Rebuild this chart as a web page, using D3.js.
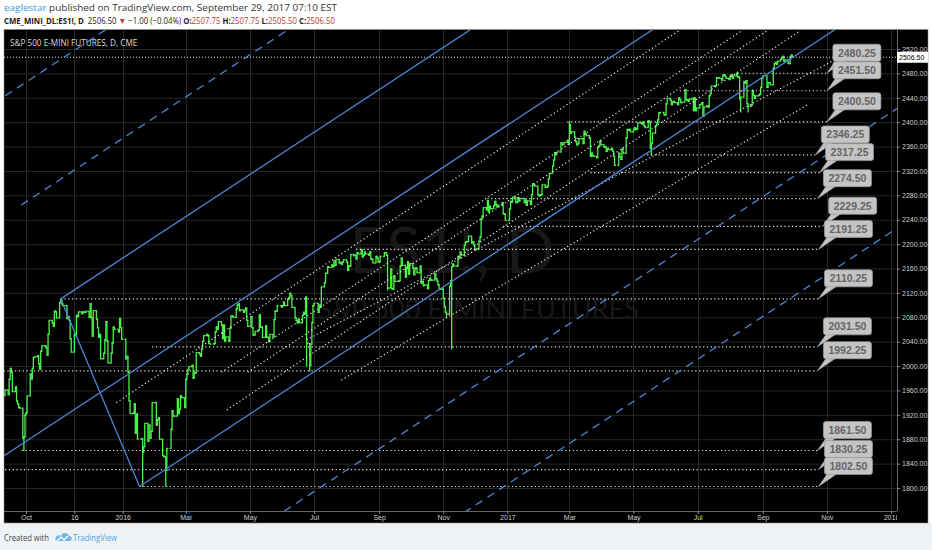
<!DOCTYPE html>
<html>
<head>
<meta charset="utf-8">
<script src="https://cdn.jsdelivr.net/npm/d3@7"></script>
<style>
body{margin:0;background:#fff}
svg{display:block}
</style>
</head>
<body>
<div id="chart"></div>
<script>
// daily closes, ES1!, year implied by the array name
const bars2015 = [
["09-10",1952],["09-11",1961],["09-14",1953],["09-15",1978],["09-16",1996],["09-17",1990],["09-18",1958],["09-21",1966],["09-22",1943],["09-23",1938],["09-24",1932],["09-25",1931],["09-28",1882],["09-29",1884],["09-30",1920],
["10-01",1923],["10-02",1951],["10-05",1987],["10-06",1979],["10-07",1996],["10-08",2014],["10-09",2015],["10-12",2017],["10-13",2004],["10-14",1995],["10-15",2024],["10-16",2033],["10-19",2033],["10-20",2030],["10-21",2018],["10-22",2052],["10-23",2075],["10-26",2071],["10-27",2065],["10-28",2090],["10-29",2089],["10-30",2079],
["11-02",2104],["11-03",2109],["11-04",2102],["11-05",2099],["11-06",2099],["11-09",2078],["11-10",2081],["11-11",2075],["11-12",2045],["11-13",2023],["11-16",2053],["11-17",2050],["11-18",2083],["11-19",2081],["11-20",2089],["11-23",2086],["11-24",2089],["11-25",2088],["11-27",2090],["11-30",2080],
["12-01",2102],["12-02",2079],["12-03",2049],["12-04",2091],["12-07",2077],["12-08",2063],["12-09",2047],["12-10",2052],["12-11",2012],["12-14",2021],["12-15",2043],["12-16",2073],["12-17",2041],["12-18",2005],["12-21",2021],["12-22",2038],["12-23",2064],["12-24",2060],["12-28",2056],["12-29",2078],["12-30",2063],["12-31",2044]
];
const bars2016 = [
["01-04",2012],["01-05",2016],["01-06",1990],["01-07",1943],["01-08",1922],["01-11",1923],["01-12",1938],["01-13",1890],["01-14",1921],["01-15",1880],["01-19",1881],["01-20",1859],["01-21",1868],["01-22",1906],["01-25",1877],["01-26",1903],["01-27",1882],["01-28",1893],["01-29",1940],
["02-01",1940],["02-02",1903],["02-03",1912],["02-04",1915],["02-05",1880],["02-08",1853],["02-09",1852],["02-10",1851],["02-11",1829],["02-12",1865],["02-16",1896],["02-17",1927],["02-18",1918],["02-19",1918],["02-22",1946],["02-23",1922],["02-24",1929],["02-25",1951],["02-26",1948],["02-29",1932],
["03-01",1978],["03-02",1987],["03-03",1994],["03-04",1999],["03-07",2001],["03-08",1980],["03-09",1989],["03-10",1989],["03-11",2022],["03-14",2020],["03-15",2016],["03-16",2028],["03-17",2041],["03-18",2050],["03-21",2052],["03-22",2050],["03-23",2037],["03-24",2036],["03-28",2037],["03-29",2056],["03-30",2064],["03-31",2060],
["04-01",2073],["04-04",2067],["04-05",2045],["04-06",2067],["04-07",2041],["04-08",2048],["04-11",2041],["04-12",2062],["04-13",2082],["04-14",2082],["04-15",2080],["04-18",2094],["04-19",2100],["04-20",2102],["04-21",2091],["04-22",2092],["04-25",2088],["04-26",2091],["04-27",2095],["04-28",2075],["04-29",2065],
["05-02",2081],["05-03",2063],["05-04",2051],["05-05",2051],["05-06",2057],["05-09",2059],["05-10",2084],["05-11",2064],["05-12",2064],["05-13",2047],["05-16",2066],["05-17",2047],["05-18",2047],["05-19",2040],["05-20",2052],["05-23",2048],["05-24",2076],["05-25",2090],["05-26",2090],["05-27",2099],["05-31",2097],
["06-01",2099],["06-02",2105],["06-03",2099],["06-06",2110],["06-07",2112],["06-08",2119],["06-09",2115],["06-10",2096],["06-13",2079],["06-14",2075],["06-15",2071],["06-16",2077],["06-17",2071],["06-20",2083],["06-21",2088],["06-22",2085],["06-23",2113],["06-24",2037],["06-27",2001],["06-28",2036],["06-29",2071],["06-30",2099],
["07-01",2103],["07-05",2088],["07-06",2100],["07-07",2097],["07-08",2130],["07-11",2137],["07-12",2152],["07-13",2152],["07-14",2163],["07-15",2162],["07-18",2166],["07-19",2163],["07-20",2173],["07-21",2165],["07-22",2175],["07-25",2169],["07-26",2170],["07-27",2167],["07-28",2170],["07-29",2174],
["08-01",2171],["08-02",2157],["08-03",2164],["08-04",2164],["08-05",2183],["08-08",2181],["08-09",2182],["08-10",2176],["08-11",2186],["08-12",2184],["08-15",2190],["08-16",2179],["08-17",2182],["08-18",2187],["08-19",2184],["08-22",2182],["08-23",2187],["08-24",2176],["08-25",2175],["08-26",2169],["08-29",2180],["08-30",2177],["08-31",2171],
["09-01",2171],["09-02",2180],["09-06",2186],["09-07",2186],["09-08",2182],["09-09",2128],["09-12",2159],["09-13",2127],["09-14",2126],["09-15",2147],["09-16",2139],["09-19",2139],["09-20",2140],["09-21",2164],["09-22",2177],["09-23",2165],["09-26",2146],["09-27",2160],["09-28",2171],["09-29",2151],["09-30",2168],
["10-03",2161],["10-04",2150],["10-05",2160],["10-06",2161],["10-07",2153],["10-10",2164],["10-11",2136],["10-12",2139],["10-13",2132],["10-14",2133],["10-17",2127],["10-18",2140],["10-19",2144],["10-20",2141],["10-21",2141],["10-24",2151],["10-25",2143],["10-26",2139],["10-27",2133],["10-28",2126],["10-31",2126],
["11-01",2111],["11-02",2097],["11-03",2088],["11-04",2085],["11-07",2131],["11-08",2140],["11-09",2163],["11-10",2167],["11-11",2164],["11-14",2164],["11-15",2180],["11-16",2177],["11-17",2187],["11-18",2182],["11-21",2198],["11-22",2203],["11-23",2204],["11-25",2213],["11-28",2202],["11-29",2204],["11-30",2199],
["12-01",2191],["12-02",2192],["12-05",2205],["12-06",2212],["12-07",2241],["12-08",2246],["12-09",2260],["12-12",2256],["12-13",2271],["12-14",2253],["12-15",2262],["12-16",2258],["12-19",2263],["12-20",2270],["12-21",2265],["12-22",2261],["12-23",2264],["12-27",2268],["12-28",2250],["12-29",2249],["12-30",2239]
];
const bars2017 = [
["01-03",2258],["01-04",2270],["01-05",2269],["01-06",2277],["01-09",2268],["01-10",2269],["01-11",2276],["01-12",2271],["01-13",2275],["01-17",2268],["01-18",2272],["01-19",2264],["01-20",2271],["01-23",2265],["01-24",2281],["01-25",2299],["01-26",2297],["01-27",2295],["01-30",2281],["01-31",2279],
["02-01",2280],["02-02",2281],["02-03",2297],["02-06",2293],["02-07",2293],["02-08",2295],["02-09",2307],["02-10",2316],["02-13",2328],["02-14",2338],["02-15",2350],["02-16",2347],["02-17",2351],["02-21",2366],["02-22",2363],["02-23",2364],["02-24",2367],["02-27",2370],["02-28",2364],
["03-01",2396],["03-02",2382],["03-03",2384],["03-06",2375],["03-07",2368],["03-08",2363],["03-09",2365],["03-10",2373],["03-13",2373],["03-14",2365],["03-15",2385],["03-16",2381],["03-17",2378],["03-20",2374],["03-21",2344],["03-22",2349],["03-23",2345],["03-24",2344],["03-27",2342],["03-28",2359],["03-29",2361],["03-30",2369],["03-31",2363],
["04-03",2359],["04-04",2360],["04-05",2352],["04-06",2357],["04-07",2355],["04-10",2357],["04-11",2353],["04-12",2344],["04-13",2329],["04-17",2349],["04-18",2343],["04-19",2339],["04-20",2356],["04-21",2349],["04-24",2374],["04-25",2388],["04-26",2387],["04-27",2388],["04-28",2384],
["05-01",2388],["05-02",2391],["05-03",2388],["05-04",2389],["05-05",2399],["05-08",2399],["05-09",2397],["05-10",2400],["05-11",2394],["05-12",2391],["05-15",2402],["05-16",2400],["05-17",2357],["05-18",2365],["05-19",2382],["05-22",2394],["05-23",2398],["05-24",2404],["05-25",2415],["05-26",2416],["05-30",2412],["05-31",2412],
["06-01",2430],["06-02",2439],["06-05",2436],["06-06",2429],["06-07",2433],["06-08",2434],["06-09",2432],["06-12",2429],["06-13",2440],["06-14",2437],["06-15",2432],["06-16",2433],["06-19",2453],["06-20",2437],["06-21",2436],["06-22",2434],["06-23",2438],["06-26",2439],["06-27",2419],["06-28",2440],["06-29",2419],["06-30",2423],
["07-03",2429],["07-05",2432],["07-06",2410],["07-07",2425],["07-10",2427],["07-11",2425],["07-12",2443],["07-13",2447],["07-14",2459],["07-17",2459],["07-18",2460],["07-19",2473],["07-20",2473],["07-21",2472],["07-24",2469],["07-25",2477],["07-26",2478],["07-27",2475],["07-28",2472],["07-31",2470],
["08-01",2476],["08-02",2478],["08-03",2472],["08-04",2476],["08-07",2480],["08-08",2474],["08-09",2474],["08-10",2438],["08-11",2441],["08-14",2466],["08-15",2464],["08-16",2468],["08-17",2430],["08-18",2426],["08-21",2428],["08-22",2452],["08-23",2444],["08-24",2439],["08-25",2443],["08-28",2444],["08-29",2446],["08-30",2457],["08-31",2472],
["09-01",2476],["09-05",2457],["09-06",2465],["09-07",2465],["09-08",2461],["09-11",2488],["09-12",2496],["09-13",2498],["09-14",2495],["09-15",2500],["09-18",2503],["09-19",2506],["09-20",2508],["09-21",2500],["09-22",2502],["09-25",2497],["09-26",2496],["09-27",2507],["09-28",2510],["09-29",2506.5]
];
// intraday extremes that stick out of the bars
const wicks = [
["2015-09-29",1861.5],["2015-11-03",2110.25],["2016-01-20",1802.5],["2016-02-11",1803],
["2016-06-24",2000],["2016-06-27",1992.25],["2016-08-15",2191.25],["2016-09-09",2125],
["2016-11-04",2080],["2016-11-09",2028.5],["2017-03-01",2400.5],["2017-05-18",2346.25],
["2017-08-08",2480.25],["2017-08-11",2417],["2017-08-18",2417],["2017-09-29",2507.75]
];

// horizontal levels with their callouts
const levelPrices = [2480.25,2451.50,2400.50,2346.25,2317.25,2274.50,2229.25,2191.25,2110.25,2031.50,1992.25,1861.50,1830.25,1802.50];
const levelStarts = ["2017-08-08","2017-06-14","2017-02-27","2017-05-14","2017-03-21","2016-12-13","2016-12-28","2016-08-10","2015-11-03","2016-01-29","2015-08-01","2015-09-27","2015-08-24","2016-01-17"];
const levelEnds = ["2017-11-01","2017-11-01","2017-11-01","2017-10-21","2017-10-25","2017-10-23","2017-10-28","2017-10-24","2017-10-24","2017-10-23","2017-10-23","2017-10-23","2017-10-24","2017-10-24"];
const lastPrice = 2506.50;

// pitchfork anchors
const forkP1 = ["2015-08-24",1833.5];
const forkP2 = ["2015-11-03",2110.25];
const forkP3 = ["2016-01-17",1802.5];
const forkSolid = [-1,0,1];
const forkDashed = [-3,-2,2,3];

// dotted trend lines [date1, price1, date2, price2]
const trendLines = [
["2015-12-26",1940,"2017-06-14",2551],
["2016-04-04",1990,"2017-08-13",2551],
["2016-04-09",1928,"2017-10-05",2548],
["2016-04-29",1990,"2017-09-06",2551],
["2016-07-27",1977,"2017-10-13",2428],
["2016-06-24",2043,"2017-11-06",2500]
];

// axes
const priceTicks = [1800,1840,1880,1920,1960,2000,2040,2080,2120,2160,2200,2240,2280,2320,2360,2400,2440,2480,2520];
const timeTicks = ["2015-10-01","2015-11-16","2016-01-01","2016-03-01","2016-05-01","2016-07-01","2016-09-01","2016-11-01","2017-01-01","2017-03-01","2017-05-01","2017-07-01","2017-09-01","2017-11-01","2018-01-01"];
const timeLabels = ["Oct","16","2016","Mar","May","Jul","Sep","Nov","2017","Mar","May","Jul","Sep","Nov","2018"];

const W = 932, H = 550;
const P = {l:4, r:897, t:30, b:511};
const parse = d3.timeParse("%Y-%m-%d");
const green = "#4cf24c", blue = "#4f86d6", dotCol = "#e6e6e6";

const bars = [];
[[2015,bars2015],[2016,bars2016],[2017,bars2017]].forEach(([yr,arr]) => {
  arr.forEach(d => bars.push({date: parse(yr+"-"+d[0]), close: d[1]}));
});
bars.forEach((b,i) => {
  b.open = i ? bars[i-1].close : b.close;
  b.high = Math.max(b.open, b.close);
  b.low = Math.min(b.open, b.close);
});
const byDay = new Map(bars.map(b => [+b.date, b]));
wicks.forEach(([d,p]) => {
  const b = byDay.get(+parse(d));
  if (b) { b.high = Math.max(b.high, p); b.low = Math.min(b.low, p); }
});

const x = d3.scaleTime().domain([parse("2015-10-01"), parse("2018-01-01")]).range([26, 891]);
const y = d3.scaleLinear().domain([1800, 2520]).range([488, 49]);

const svg = d3.select("#chart").append("svg").attr("width", W).attr("height", H)
  .style("font-family", "'Liberation Sans', Arial, sans-serif");

// page parts
svg.append("rect").attr("width", W).attr("height", H).attr("fill", "#fff");
svg.append("rect").attr("x",0).attr("y",523).attr("width",W).attr("height",27).attr("fill","#f0f3f6");
svg.append("rect").attr("x",P.l).attr("y",29.5).attr("width",924).attr("height",493.5)
  .attr("fill","#000").attr("stroke","#8a8a8a").attr("stroke-width",0.6);

const defs = svg.append("defs");
defs.append("clipPath").attr("id","plotClip").append("rect")
  .attr("x",P.l).attr("y",P.t).attr("width",P.r-P.l).attr("height",P.b-P.t);
defs.append("clipPath").attr("id","xLabClip").append("rect")
  .attr("x",0).attr("y",P.b).attr("width",P.r).attr("height",14);

// grid
const grid = svg.append("g").attr("stroke","#262626").attr("stroke-width",1);
grid.selectAll(".gy").data(priceTicks).join("line")
  .attr("x1",P.l).attr("x2",P.r).attr("y1",d=>y(d)+0.5).attr("y2",d=>y(d)+0.5);
grid.selectAll(".gx").data(timeTicks.map(parse)).join("line")
  .attr("y1",P.t).attr("y2",P.b).attr("x1",d=>Math.round(x(d))+0.5).attr("x2",d=>Math.round(x(d))+0.5);

// watermark
svg.append("text").attr("x",452).attr("y",273).attr("text-anchor","middle")
  .attr("font-family","Lato, sans-serif").attr("font-size",64).attr("fill","#181818").text("ES1!, D");
svg.append("text").attr("x",478).attr("y",319).attr("text-anchor","middle")
  .attr("font-family","Lato, sans-serif").attr("font-size",27).attr("fill","#181818").text("S&P 500 E-MINI FUTURES");

const plot = svg.append("g").attr("clip-path","url(#plotClip)");

// price bars
const barG = plot.append("g").attr("stroke",green).attr("stroke-width",1.3);
barG.selectAll("path").data(bars).join("path")
  .attr("d", b => {
    const cx = x(b.date);
    return `M${cx},${y(b.high)-0.6}V${y(b.low)+0.6}M${cx-1.5},${y(b.open)}H${cx}M${cx},${y(b.close)}H${cx+1.5}`;
  });

// horizontal levels
plot.append("line").attr("x1",P.l).attr("x2",P.r).attr("y1",y(lastPrice)).attr("y2",y(lastPrice))
  .attr("stroke",dotCol).attr("stroke-width",1).attr("stroke-dasharray","1,2");
plot.selectAll(".lvl").data(levelPrices).join("line")
  .attr("x1",(d,i)=>x(parse(levelStarts[i]))).attr("x2",(d,i)=>x(parse(levelEnds[i])))
  .attr("y1",d=>y(d)).attr("y2",d=>y(d))
  .attr("stroke",dotCol).attr("stroke-width",1.2).attr("stroke-dasharray","1.2,2.6");

// dotted trend lines
plot.selectAll(".tl").data(trendLines).join("line")
  .attr("x1",d=>x(parse(d[0]))).attr("y1",d=>y(d[1]))
  .attr("x2",d=>x(parse(d[2]))).attr("y2",d=>y(d[3]))
  .attr("stroke",dotCol).attr("stroke-width",1.2).attr("stroke-dasharray","1.2,2.6");

// pitchfork
const pa = [x(parse(forkP1[0])), y(forkP1[1])];
const pb = [x(parse(forkP2[0])), y(forkP2[1])];
const pc = [x(parse(forkP3[0])), y(forkP3[1])];
const pm = [(pb[0]+pc[0])/2, (pb[1]+pc[1])/2];
const dir = [pm[0]-pa[0], pm[1]-pa[1]];
const half = [pc[0]-pm[0], pc[1]-pm[1]];
function forkLine(k) {
  const s = k === 0 ? pa : [pm[0]+k*half[0], pm[1]+k*half[1]];
  return [s, [s[0]+dir[0]*20, s[1]+dir[1]*20]];
}
const fork = plot.append("g").attr("stroke",blue).attr("fill","none");
fork.append("line").attr("x1",pb[0]).attr("y1",pb[1]).attr("x2",pc[0]).attr("y2",pc[1]).attr("stroke-width",1.3);
fork.selectAll(".fs").data(forkSolid).join("line")
  .attr("stroke-width",1.3)
  .each(function(k){ const [s,e] = forkLine(k); d3.select(this).attr("x1",s[0]).attr("y1",s[1]).attr("x2",e[0]).attr("y2",e[1]); });
fork.selectAll(".fd").data(forkDashed).join("line")
  .attr("stroke-width",1.3).attr("stroke-dasharray","8,6")
  .each(function(k){ const [s,e] = forkLine(k); d3.select(this).attr("x1",s[0]).attr("y1",s[1]).attr("x2",e[0]).attr("y2",e[1]); });

// axes
const yAxis = svg.append("g").attr("transform",`translate(${P.r},0)`)
  .call(d3.axisRight(y).tickValues(priceTicks).tickFormat(d3.format(".2f")).tickSize(3).tickPadding(2));
yAxis.select(".domain").attr("stroke","#666").attr("d",`M0.5,${P.t}V${P.b}`);
yAxis.selectAll(".tick line").attr("stroke","#888");
yAxis.selectAll(".tick text").attr("fill","#cfcfcf").attr("font-size",7).attr("font-family","'Liberation Sans', Arial, sans-serif");

const xClip = svg.append("g").attr("clip-path","url(#xLabClip)");
const xAxis = xClip.append("g").attr("transform",`translate(0,${P.b})`)
  .call(d3.axisBottom(x).tickValues(timeTicks.map(parse)).tickFormat((d,i)=>timeLabels[i]).tickSize(3).tickPadding(1));
xAxis.select(".domain").attr("stroke","#666").attr("d",`M${P.l},0.5H${P.r}`);
xAxis.selectAll(".tick line").attr("stroke","#888");
xAxis.selectAll(".tick text").attr("fill","#cfcfcf").attr("font-size",7).attr("font-family","'Liberation Sans', Arial, sans-serif");

// callouts, drawn top price first so lower ones sit on top
const callG = svg.append("g");
levelPrices.forEach((p,i) => {
  const ex = x(parse(levelEnds[i])), ey = y(p);
  const bx = ex + 6, by = ey - 29, bw = 48, bh = 17;
  const g = callG.append("g");
  g.append("path").attr("d",`M${bx+3},${by+bh-1}L${ex},${ey}L${bx+13},${by+bh-1}Z`).attr("fill","#c4c4c4").attr("stroke","#9b9b9b").attr("stroke-width",0.6);
  g.append("rect").attr("x",bx).attr("y",by).attr("width",bw).attr("height",bh).attr("rx",2.5)
    .attr("fill","#c4c4c4").attr("stroke","#9b9b9b").attr("stroke-width",0.7);
  g.append("text").attr("x",bx+bw/2).attr("y",by+12.5).attr("text-anchor","middle")
    .attr("font-size",10.5).attr("font-weight","bold").attr("fill","#656565").text(d3.format(".2f")(p));
});

// last price tag
svg.append("rect").attr("x",P.r).attr("y",y(lastPrice)-5.5).attr("width",31).attr("height",11).attr("fill","#fff");
svg.append("text").attr("x",P.r+2).attr("y",y(lastPrice)+2.5).attr("font-size",7).attr("fill","#000").text(d3.format(".2f")(lastPrice));

// chart title
svg.append("text").attr("x",10).attr("y",46).attr("font-size",8.2).attr("fill","#dcdcdc")
  .attr("font-family","'Open Sans', sans-serif").text("S&P 500 E-MINI FUTURES, D, CME");

// squeezes a run of tspans horizontally so it spans `width` pixels
const hf = "'Open Sans', sans-serif";
function squeezed(px, py, width, size, parts) {
  const g = svg.append("g");
  const t = g.append("text").attr("x",0).attr("y",0).attr("font-size",size).attr("font-family",hf)
    .attr("xml:space","preserve");
  parts.forEach(([s,c,w]) => t.append("tspan").attr("fill",c).attr("font-weight",w).text(s));
  const k = width / t.node().getComputedTextLength();
  g.attr("transform",`translate(${px},${py}) scale(${k},1)`);
}

// header
squeezed(4, 10.5, 333, 8.6, [
  ["eaglestar","#3d9ad6","normal"],
  [" published on TradingView.com, September 29, 2017 07:10 EST","#333","normal"]
]);
squeezed(4, 24, 331, 8.6, [
  ["CME_MINI_DL:ES1!, D","#222","bold"],
  ["  2506.50 ","#222","normal"],
  ["▼","#c0392b","normal"],
  [" −1.00 (−0.04%) ","#222","normal"],
  ["O:","#222","bold"],["2507.75 ","#c0392b","normal"],
  ["H:","#222","bold"],["2507.75 ","#c0392b","normal"],
  ["L:","#222","bold"],["2505.50 ","#c0392b","normal"],
  ["C:","#222","bold"],["2506.50","#c0392b","normal"]
]);

// footer
squeezed(4, 541, 45, 9.2, [["Created with","#444","normal"]]);
const logo = svg.append("g").attr("transform","translate(55,532)");
logo.append("path").attr("d","M1,9 C-1,5 3,2 6,4 C7,0 13,0 14,4 C17,4 18,8 15,9 Z").attr("fill","#6bb7e8");
logo.append("path").attr("d","M2,9 L6,5 L9,8 L13,4").attr("fill","none").attr("stroke","#fff").attr("stroke-width",1.4);
squeezed(73, 541, 44, 9.2, [["TradingView","#4ea6de","normal"]]);
</script>
</body>
</html>
